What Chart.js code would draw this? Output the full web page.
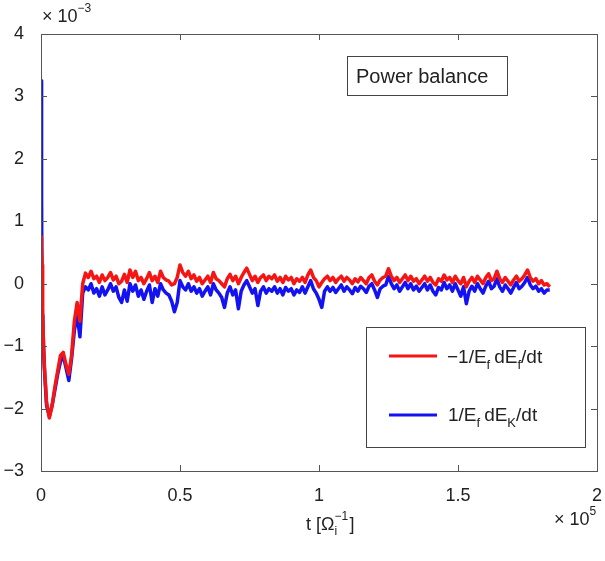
<!DOCTYPE html>
<html>
<head>
<meta charset="utf-8">
<script src="https://cdn.jsdelivr.net/npm/chart.js@4.4.0/dist/chart.umd.min.js"></script>
<style>
  html, body { margin: 0; padding: 0; background: #fff; }
  #wrap { width: 605px; height: 561px; }
</style>
</head>
<body>
<div id="wrap"><canvas id="powerChart" width="605" height="561"></canvas></div>
<script>
// temps en unités de 1e5 / Omega_i, valeurs en unités de 1e-3
const tEarly = [0, 0.002, 0.004, 0.006, 0.008, 0.012, 0.02, 0.03, 0.04, 0.05, 0.06, 0.07, 0.08, 0.09, 0.10, 0.11, 0.12, 0.13, 0.14, 0.15];
const redEarly = [0.75, 0.6, 0.3, -0.4, -0.8, -1.3, -1.9, -2.15, -1.95, -1.65, -1.4, -1.15, -1.1, -1.3, -1.45, -1.15, -0.6, -0.3, -0.6, 0.0];
const blueEarly = [3.25, 1.4, -0.7, -0.5, -0.9, -1.35, -1.95, -2.12, -1.95, -1.7, -1.45, -1.25, -1.15, -1.35, -1.55, -1.2, -0.75, -0.5, -0.85, -0.15];

// partie bruitée : un point tous les 0.01 à partir de t = 0.16
const tStart = 0.16;
const tStep = 0.01;
const redNoise = [
  0.17, 0.10, 0.20, 0.08, 0.12, 0.02, 0.14, 0.05, 0.10, 0.18,
  0.06, 0.12, 0.00, 0.04, 0.15, 0.02, 0.22, 0.10, 0.20, 0.05,
  0.10, 0.00, 0.08, 0.18, 0.05, 0.12, 0.02, 0.20, 0.10, 0.06,
  0.04, -0.02, 0.00, 0.10, 0.30, 0.18, 0.12, 0.20, 0.08, 0.14,
  0.04, 0.10, 0.00, 0.06, 0.12, 0.02, 0.18, 0.08, 0.05, 0.00,
  -0.05, 0.08, 0.15, 0.05, 0.12, 0.00, 0.10, 0.18, 0.25, 0.15,
  0.05, 0.12, 0.02, 0.10, 0.14, 0.05, 0.12, 0.08, 0.14, 0.04,
  0.10, 0.02, 0.12, 0.06, 0.10, 0.00, 0.08, 0.04, 0.10, 0.02,
  0.14, 0.22, 0.10, 0.05, -0.05, 0.02, 0.08, 0.12, 0.05, 0.10,
  0.02, 0.08, 0.12, 0.04, 0.10, 0.06, 0.00, 0.08, 0.03, 0.10,
  0.05, 0.00, 0.10, 0.14, 0.04, -0.02, 0.06, 0.10, 0.12, 0.24,
  0.12, 0.05, 0.10, 0.02, 0.08, 0.14, 0.05, 0.12, 0.04, 0.08,
  0.00, 0.06, 0.12, 0.04, 0.10, 0.02, -0.02, 0.08, 0.04, 0.14,
  0.06, 0.10, 0.02, 0.12, 0.05, 0.00, 0.10, -0.05, 0.04, 0.10,
  0.02, 0.12, 0.06, 0.00, 0.10, 0.16, 0.05, 0.08, 0.20, 0.08,
  0.02, 0.10, 0.04, -0.02, 0.06, 0.12, 0.04, 0.08, 0.14, 0.22,
  0.10, 0.04, 0.08, 0.00, 0.05, -0.02, 0.00, -0.05
];
const blueNoise = [
  -0.05, -0.10, 0.00, -0.15, -0.08, -0.20, -0.05, -0.18, -0.10, 0.00,
  -0.12, -0.05, -0.22, -0.30, -0.10, -0.28, 0.00, -0.12, -0.02, -0.20,
  -0.10, -0.25, -0.12, -0.02, -0.30, -0.08, -0.20, 0.00, -0.10, -0.15,
  -0.18, -0.28, -0.45, -0.30, 0.05, -0.05, -0.10, 0.00, -0.12, -0.05,
  -0.15, -0.08, -0.20, -0.12, -0.05, -0.18, 0.00, -0.10, -0.15, -0.22,
  -0.38, -0.15, -0.05, -0.18, -0.10, -0.40, -0.12, -0.02, 0.05, -0.05,
  -0.15, -0.08, -0.35, -0.12, -0.05, -0.15, -0.08, -0.12, -0.05, -0.15,
  -0.08, -0.18, -0.06, -0.12, -0.08, -0.18, -0.10, -0.14, -0.05, -0.15,
  -0.05, 0.05, -0.08, -0.15, -0.25, -0.38, -0.12, -0.05, -0.12, -0.06,
  -0.14, -0.08, -0.02, -0.12, -0.05, -0.10, -0.16, -0.06, -0.12, -0.04,
  -0.08, -0.14, -0.04, 0.00, -0.10, -0.22, -0.08, -0.04, -0.02, 0.12,
  0.00, -0.08, -0.02, -0.12, -0.05, 0.02, -0.08, 0.00, -0.10, -0.04,
  -0.12, -0.06, 0.00, -0.10, -0.02, -0.12, -0.18, -0.06, -0.10, 0.02,
  -0.08, -0.02, -0.12, 0.00, -0.10, -0.20, -0.05, -0.32, -0.12, -0.04,
  -0.12, 0.00, -0.08, -0.15, -0.04, 0.04, -0.08, -0.04, 0.08, -0.05,
  -0.12, -0.02, -0.08, -0.15, -0.06, 0.02, -0.08, -0.04, 0.02, 0.10,
  -0.02, -0.08, -0.04, -0.12, -0.08, -0.15, -0.10, -0.10
];

const xTicks = [0, 0.5, 1, 1.5, 2];
const yTicks = [-3, -2, -1, 0, 1, 2, 3, 4];

function buildPoints(early, noise) {
    let pts = tEarly.map((t, i) => ({ x: t, y: early[i] }));
    noise.forEach((v, i) => pts.push({ x: +(tStart + i * tStep).toFixed(3), y: v }));
    return pts;
}

const FONT = '"Liberation Sans", Arial, Helvetica, sans-serif';
const TXT = '#222';
const RED = '#f51515';
const BLUE = '#1212f2';

// dessine du texte avec indices / exposants
function drawRich(ctx, x, y, parts) {
    ctx.textAlign = 'left';
    ctx.textBaseline = 'alphabetic';
    parts.forEach(p => {
        ctx.font = (p.size || 16) + 'px ' + FONT;
        ctx.fillText(p.t, x, y + (p.dy || 0));
        if (!p.noAdvance) x += ctx.measureText(p.t).width + (p.gap || 0);
    });
    return x;
}

const boxPlugin = {
    id: 'matlabBox',
    afterDraw(chart) {
        const ctx = chart.ctx;
        const a = chart.chartArea;
        const xs = chart.scales.x, ys = chart.scales.y;
        ctx.save();
        ctx.strokeStyle = '#555';
        ctx.lineWidth = 1;
        ctx.strokeRect(Math.round(a.left) + 0.5, Math.round(a.top) + 0.5, Math.round(a.right - a.left), Math.round(a.bottom - a.top));
        // graduations vers l'intérieur sur les 4 côtés
        ctx.beginPath();
        xTicks.forEach(v => {
            const px = Math.round(xs.getPixelForValue(v)) + 0.5;
            ctx.moveTo(px, a.bottom); ctx.lineTo(px, a.bottom - 6);
            ctx.moveTo(px, a.top); ctx.lineTo(px, a.top + 6);
        });
        yTicks.forEach(v => {
            const py = Math.round(ys.getPixelForValue(v)) + 0.5;
            ctx.moveTo(a.left, py); ctx.lineTo(a.left + 6, py);
            ctx.moveTo(a.right, py); ctx.lineTo(a.right - 6, py);
        });
        ctx.stroke();

        ctx.fillStyle = TXT;
        // facteurs d'échelle
        drawRich(ctx, 42, 22, [{ t: '× 10', size: 18 }, { t: '−3', size: 12, dy: -10 }]);
        drawRich(ctx, 554, 525, [{ t: '× 10', size: 18 }, { t: '5', size: 12, dy: -10 }]);
        // titre de l'axe x
        let xx = drawRich(ctx, 306, 530, [{ t: 't [Ω', size: 18 }]);
        drawRich(ctx, xx, 530, [{ t: '−1', size: 12, dy: -10, noAdvance: true }, { t: 'i', size: 12, dy: 5 }]);
        drawRich(ctx, xx + 15, 530, [{ t: ']', size: 18 }]);

        // boîte "Power balance"
        ctx.fillStyle = '#fff';
        ctx.fillRect(347, 56, 160, 39);
        ctx.strokeStyle = '#444';
        ctx.strokeRect(347.5, 56.5, 160, 39);
        ctx.fillStyle = TXT;
        drawRich(ctx, 356, 83, [{ t: 'Power balance', size: 20 }]);

        // légende
        ctx.fillStyle = '#fff';
        ctx.fillRect(366, 327, 219, 120);
        ctx.strokeRect(366.5, 327.5, 219, 120);
        ctx.lineWidth = 3;
        ctx.strokeStyle = RED;
        ctx.beginPath(); ctx.moveTo(389, 356); ctx.lineTo(437, 356); ctx.stroke();
        ctx.strokeStyle = BLUE;
        ctx.beginPath(); ctx.moveTo(389, 415); ctx.lineTo(437, 415); ctx.stroke();
        ctx.fillStyle = TXT;
        drawRich(ctx, 447, 363, [
            { t: '−1/E', size: 19 }, { t: 'f', size: 13, dy: 6, gap: 4 },
            { t: 'dE', size: 19 }, { t: 'f', size: 13, dy: 6 }, { t: '/dt', size: 19 }
        ]);
        drawRich(ctx, 448, 421, [
            { t: '1/E', size: 19 }, { t: 'f', size: 13, dy: 6, gap: 4 },
            { t: 'dE', size: 19 }, { t: 'K', size: 13, dy: 6 }, { t: '/dt', size: 19 }
        ]);
        ctx.restore();
    }
};

new Chart(document.getElementById('powerChart'), {
    type: 'line',
    data: {
        datasets: [{
            label: '-1/Ef dEf/dt',
            data: buildPoints(redEarly, redNoise),
            borderColor: RED,
            borderWidth: 3.5,
            borderJoinStyle: 'round',
            pointRadius: 0,
            tension: 0
        }, {
            label: '1/Ef dEK/dt',
            data: buildPoints(blueEarly, blueNoise),
            borderColor: BLUE,
            borderWidth: 3.5,
            borderJoinStyle: 'round',
            pointRadius: 0,
            tension: 0
        }]
    },
    options: {
        responsive: false,
        animation: false,
        layout: { padding: { top: 34, right: 0, left: 0, bottom: 0 } },
        plugins: { legend: { display: false }, tooltip: { enabled: false } },
        scales: {
            x: {
                type: 'linear',
                min: 0, max: 2,
                afterBuildTicks: s => { s.ticks = xTicks.map(v => ({ value: v })); },
                afterFit: s => { s.height = 90; s.paddingRight = 8; s.paddingLeft = 0; },
                grid: { display: false },
                border: { display: false },
                ticks: {
                    color: TXT, padding: 6,
                    font: { family: FONT, size: 18 },
                    callback: v => String(v),
                    maxRotation: 0
                }
            },
            y: {
                min: -3, max: 4,
                afterBuildTicks: s => { s.ticks = yTicks.map(v => ({ value: v })); },
                afterFit: s => { s.width = 41; },
                grid: { display: false },
                border: { display: false },
                ticks: {
                    color: TXT, padding: 9,
                    font: { family: FONT, size: 18 },
                    callback: v => (v < 0 ? '−' + Math.abs(v) : String(v))
                }
            }
        }
    },
    plugins: [boxPlugin]
});
</script>
</body>
</html>
